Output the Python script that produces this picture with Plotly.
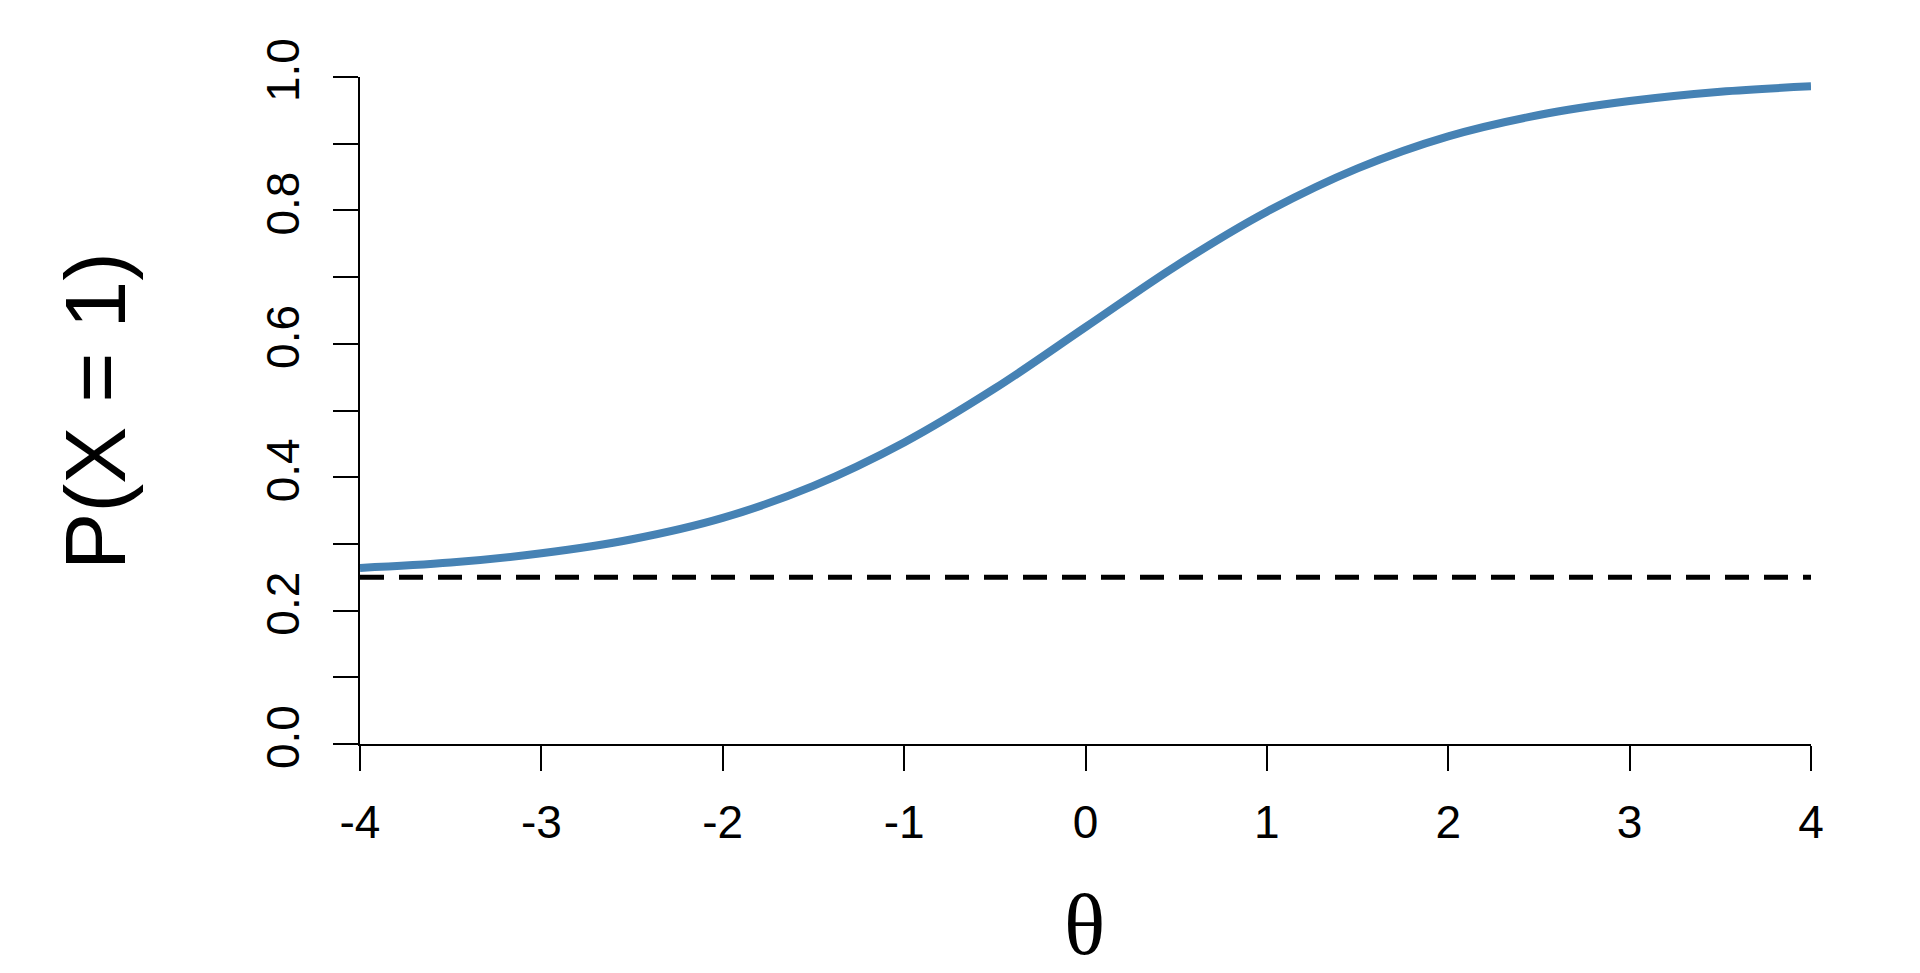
import plotly.graph_objects as go

# Item characteristic curve
theta = [-4.0, -3.5, -3.0, -2.5, -2.0, -1.5, -1.0, -0.5, 0.0,
         0.5, 1.0, 1.5, 2.0, 2.5, 3.0, 3.5, 4.0]
prob = [0.264, 0.272, 0.286, 0.307, 0.339, 0.387, 0.452, 0.533, 0.625,
        0.717, 0.798, 0.863, 0.911, 0.943, 0.964, 0.978, 0.986]

# Guessing floor
guess_x = [-4.0, 4.0]
guess_y = [0.25, 0.25]

x_ticks = [-4, -3, -2, -1, 0, 1, 2, 3, 4]
y_ticks = [0.0, 0.2, 0.4, 0.6, 0.8, 1.0]
y_labels = ["0.0", "0.2", "0.4", "0.6", "0.8", "1.0"]

LABEL_FONT = "Liberation Sans, Arial, sans-serif"
TICK_SIZE = 46

fig = go.Figure()
fig.add_trace(go.Scatter(x=guess_x, y=guess_y, mode="lines",
                         line=dict(color="black", width=5, dash="24px,15px"),
                         hoverinfo="skip"))
fig.add_trace(go.Scatter(x=theta, y=prob, mode="lines",
                         line=dict(color="#4682B4", width=8, shape="spline"),
                         hoverinfo="skip"))

# the page body adds an 8px offset, margins are corrected for it
fig.update_layout(
    width=1920, height=973,
    margin=dict(l=352, r=117, t=69, b=237),
    paper_bgcolor="white", plot_bgcolor="white",
    showlegend=False,
    font=dict(family=LABEL_FONT, color="black"),
    xaxis=dict(
        range=[-4, 4], showgrid=False, zeroline=False,
        showline=True, linecolor="black", linewidth=1.5,
        ticks="outside", ticklen=25, tickwidth=1.5, tickcolor="black",
        tickvals=x_ticks, ticktext=[str(v) for v in x_ticks],
        tickfont=dict(size=TICK_SIZE, family=LABEL_FONT, color="black"),
        ticklabelstandoff=12,
    ),
    yaxis=dict(
        range=[0, 1], showgrid=False, zeroline=False,
        showline=True, linecolor="black", linewidth=1.5,
        ticks="outside", ticklen=25, tickwidth=1.5, tickcolor="black",
        tickvals=y_ticks, ticktext=y_labels, tickangle=-90,
        tickfont=dict(size=TICK_SIZE, family=LABEL_FONT, color="black"),
        ticklabelstandoff=16,
        minor=dict(dtick=0.1, ticks="outside", ticklen=25, tickwidth=1.5,
                   tickcolor="black", showgrid=False),
    ),
    annotations=[
        dict(text="P(X = 1)", xref="paper", yref="paper", x=-0.183, y=0.5,
             xanchor="center", yanchor="middle", textangle=-90, showarrow=False,
             font=dict(size=86, family=LABEL_FONT, color="black")),
        dict(text="θ", xref="paper", yref="paper", x=0.499, y=-0.272,
             xanchor="center", yanchor="middle", showarrow=False,
             font=dict(size=86, family="Liberation Serif, Times New Roman, serif",
                       color="black")),
    ],
)

fig.write_html("out.html")
